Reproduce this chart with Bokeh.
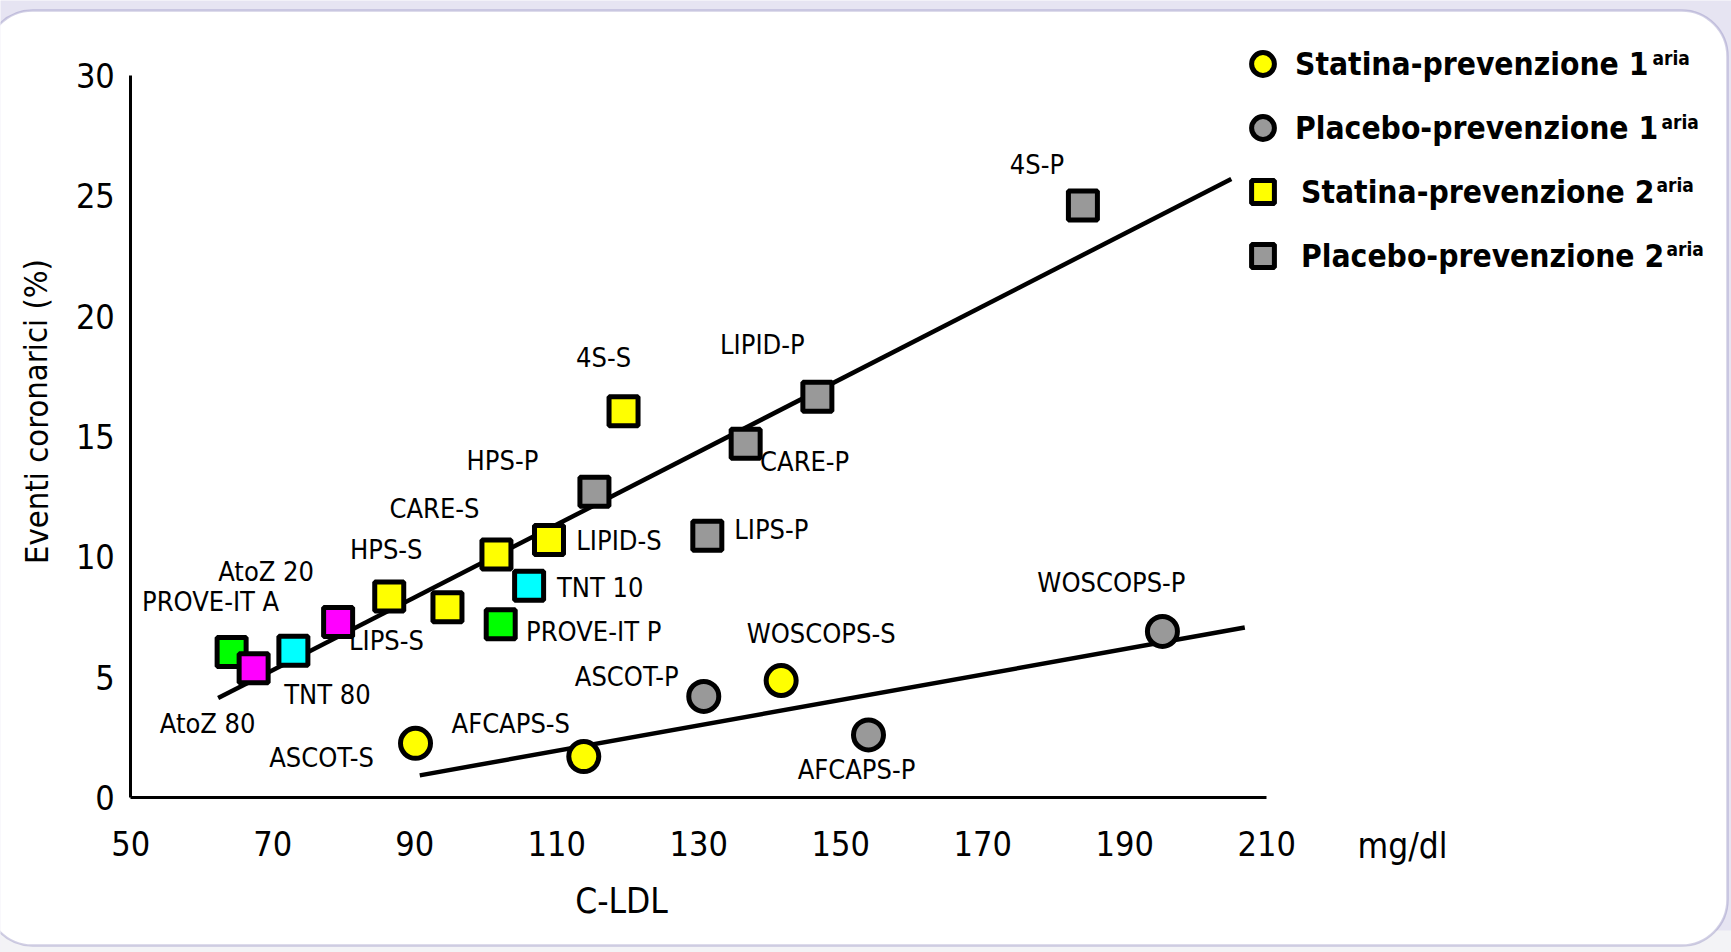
from bokeh.plotting import figure
from bokeh.models import (Range1d, LinearAxis, FixedTicker, ColumnDataSource,
                          BoxAnnotation, Legend, LegendItem, Label)
from bokeh.core.properties import value
from bokeh.embed import file_html
from bokeh.resources import INLINE

# ---------------- data ----------------
# secondary-prevention trials (squares): LDL-C (mg/dl) vs coronary events (%)
sq_names = ["PROVE-IT A", "AtoZ 80", "TNT 80", "AtoZ 20", "HPS-S", "LIPS-S",
            "CARE-S", "LIPID-S", "TNT 10", "PROVE-IT P", "HPS-P", "4S-S",
            "CARE-P", "LIPID-P", "LIPS-P", "4S-P"]
sq_ldl = [64.2, 67.3, 72.9, 79.2, 86.4, 94.6, 101.5, 108.9, 106.1, 102.1,
          115.3, 119.4, 136.6, 146.7, 131.2, 184.1]
sq_events = [6.05, 5.37, 6.1, 7.29, 8.35, 7.9, 10.1, 10.7, 8.8, 7.2,
             12.7, 16.05, 14.7, 16.65, 10.87, 24.6]
sq_arm = ["PROVE-IT", "AtoZ", "TNT", "AtoZ", "statina", "statina",
          "statina", "statina", "TNT", "PROVE-IT", "placebo", "statina",
          "placebo", "placebo", "placebo", "placebo"]

# primary-prevention trials (circles)
ci_names = ["ASCOT-S", "AFCAPS-S", "ASCOT-P", "WOSCOPS-S", "AFCAPS-P", "WOSCOPS-P"]
ci_ldl = [90.1, 113.8, 130.7, 141.6, 153.9, 195.3]
ci_events = [2.25, 1.7, 4.2, 4.86, 2.6, 6.9]
ci_arm = ["statina", "statina", "placebo", "statina", "placebo", "placebo"]

# regression lines (end points)
fit2_ldl = [62.3, 205.0]
fit2_events = [4.13, 25.7]
fit1_ldl = [90.7, 206.9]
fit1_events = [0.92, 7.06]

x_ticks = [50, 70, 90, 110, 130, 150, 170, 190, 210]
y_ticks = [0, 5, 10, 15, 20, 25, 30]

legend_labels = ["Statina-prevenzione 1", "Placebo-prevenzione 1",
                 "Statina-prevenzione 2", "Placebo-prevenzione 2"]

# ---------------- styling ----------------
FONT = "DejaVu Sans Condensed"
W, H = 1731, 952
SX, SY = 7.10, 24.07          # pixels per data unit
X_ORIGIN_PX, Y_ORIGIN_PX = 130.3, 797.0

arm_color = {"statina": "#ffff00", "placebo": "#999999", "PROVE-IT": "#00ff00",
             "TNT": "#00ffff", "AtoZ": "#ff00ff"}

# label offsets (screen px) relative to each marker
sq_dx = [-21, -46, 34, -72, -3, -61, -62, 70, 71, 93, -92, -20, 59, -55, 64, -46]
sq_dy = [-50, 55, 44, -51, -47, 33, -46, 1, 2, 7, -31, -54, 18, -52, -6, -41]
ci_dx = [-94, -73, -77, 40, -12, -51]
ci_dy = [14, -33, -20, -47, 35, -49]


def px_x(px):
    return 50 + (px - X_ORIGIN_PX) / SX


def px_y(py):
    return (Y_ORIGIN_PX - py) / SY


p = figure(width=W, height=H, output_backend="svg", toolbar_location=None,
           x_range=Range1d(px_x(0), px_x(W)), y_range=Range1d(px_y(H), px_y(0)),
           x_axis_location=None, y_axis_location=None, min_border=0,
           outline_line_color=None, background_fill_color="#e6e4f2",
           border_fill_color="#e6e4f2")
for g in p.grid:
    g.visible = False

# light strip along the bottom edge
p.add_layout(BoxAnnotation(left=px_x(-10), right=px_x(W + 10), top=px_y(930),
                           bottom=px_y(H + 10), fill_color="#f3f3f6", fill_alpha=1.0,
                           line_color=None, level="underlay"))
# rounded white panel
panel = BoxAnnotation(left=px_x(-14), right=px_x(1727), top=px_y(10), bottom=px_y(945),
                      fill_color="white", fill_alpha=1.0, line_color="#6b62a8",
                      line_width=2.5, border_radius=46, level="underlay")
p.add_layout(panel)

# axes drawn at fixed data positions
xaxis = LinearAxis(fixed_location=0, ticker=FixedTicker(ticks=x_ticks), bounds=(50, 210))
yaxis = LinearAxis(fixed_location=50, ticker=FixedTicker(ticks=y_ticks), bounds=(0, 30))
for ax in (xaxis, yaxis):
    ax.axis_line_color = "black"
    ax.axis_line_width = 3
    ax.major_tick_line_color = None
    ax.minor_tick_line_color = None
    ax.major_tick_in = 0
    ax.major_tick_out = 0
    ax.minor_tick_in = 0
    ax.minor_tick_out = 0
    ax.major_label_text_font = FONT
    ax.major_label_text_font_size = "34px"
    ax.major_label_text_color = "black"
xaxis.major_label_standoff = 33
yaxis.major_label_standoff = 16
p.add_layout(xaxis, "below")
p.add_layout(yaxis, "left")

# regression lines
p.line(fit2_ldl, fit2_events, line_color="black", line_width=4.5)
p.line(fit1_ldl, fit1_events, line_color="black", line_width=4.5)

sq_src = ColumnDataSource(dict(x=sq_ldl, y=sq_events, name=sq_names,
                               color=[arm_color[a] for a in sq_arm],
                               dx=sq_dx, dy=sq_dy))
ci_src = ColumnDataSource(dict(x=ci_ldl, y=ci_events, name=ci_names,
                               color=[arm_color[a] for a in ci_arm],
                               dx=ci_dx, dy=ci_dy))

ci_r = p.scatter("x", "y", source=ci_src, marker="circle", size=30,
                 fill_color="color", line_color="black", line_width=5)
sq_r = p.scatter("x", "y", source=sq_src, marker="square", size=29,
                 fill_color="color", line_color="black", line_width=5)

for src in (sq_src, ci_src):
    p.text("x", "y", text="name", source=src, x_offset="dx", y_offset="dy",
           text_align="center", text_baseline="middle", text_color="black",
           text_font=value(FONT), text_font_size="27px")

# axis titles
title_style = dict(text_align="center", text_baseline="middle", text_font=FONT,
                   text_color="black")
p.add_layout(Label(x=px_x(621), y=px_y(900), text="C-LDL", text_font_size="35px",
                   **title_style))
p.add_layout(Label(x=px_x(1402), y=px_y(845), text="mg/dl", text_font_size="35px",
                   **title_style))
p.add_layout(Label(x=px_x(36), y=px_y(411), text="Eventi coronarici (%)", angle=1.5708,
                   text_font_size="32.5px", **title_style))

# legends: primary prevention (circles) and secondary prevention (squares)
legend_style = dict(glyph_width=57, glyph_height=57, spacing=7, padding=0, margin=0,
                    background_fill_alpha=0, border_line_color=None,
                    label_text_font=FONT, label_text_font_style="bold",
                    label_text_font_size="31.5px", label_text_color="black")
leg1 = Legend(items=[
    LegendItem(label=legend_labels[0], renderers=[ci_r], index=ci_arm.index("statina")),
    LegendItem(label=legend_labels[1], renderers=[ci_r], index=ci_arm.index("placebo")),
], location=(1234, 796), label_standoff=4, **legend_style)
leg2 = Legend(items=[
    LegendItem(label=legend_labels[2], renderers=[sq_r], index=sq_arm.index("statina")),
    LegendItem(label=legend_labels[3], renderers=[sq_r], index=sq_arm.index("placebo")),
], location=(1234, 668), label_standoff=10, **legend_style)
p.add_layout(leg1)
p.add_layout(leg2)

# ordinal suffix written as superscript after each legend entry
sup_px = [(1652, 57), (1661, 121), (1656, 184), (1666, 248)]
for sx, sy in sup_px:
    p.add_layout(Label(x=px_x(sx), y=px_y(sy), text="aria", text_baseline="middle",
                       text_font=FONT, text_font_style="bold", text_font_size="19px",
                       text_color="black"))

open("out.html", "w").write(file_html(p, INLINE))
